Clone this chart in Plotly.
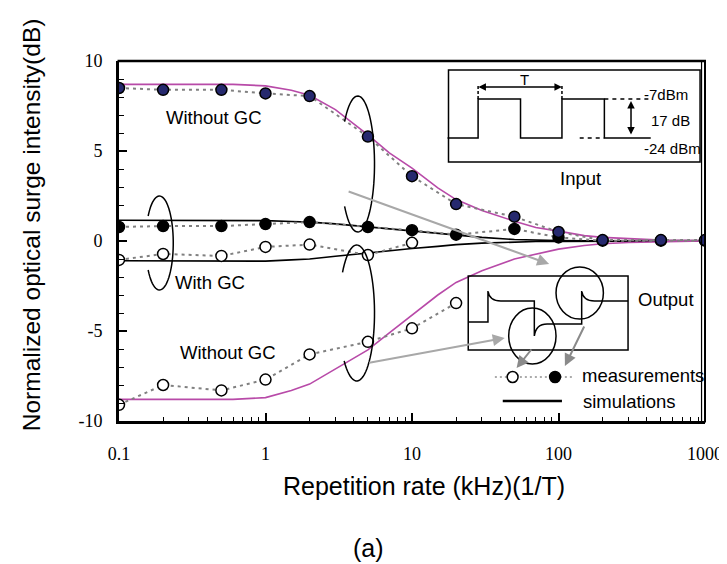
import numpy as np
import plotly.graph_objects as go

W, H = 727, 564
L, R, T, B = 111, 705, 53, 413  # plot area in pixels

# ---------------- data ----------------
x_meas = [0.1, 0.2, 0.5, 1, 2, 5, 10, 20, 50, 100, 200, 500, 1000]
meas_woGC_pos = [8.5, 8.4, 8.4, 8.2, 8.05, 5.8, 3.6, 2.05, 1.35, 0.5, 0.05, 0.05, 0.05]
meas_wGC_pos = [0.78, 0.83, 0.83, 0.94, 1.05, 0.78, 0.6, 0.35, 0.67, 0.2, 0.02, 0.02, 0.02]
x_meas_wGC_neg = [0.1, 0.2, 0.5, 1, 2, 5, 10]
meas_wGC_neg = [-1.05, -0.72, -0.83, -0.33, -0.2, -0.78, -0.1]
x_meas_woGC_neg = [0.1, 0.2, 0.5, 1, 2, 5, 10, 20]
meas_woGC_neg = [-9.1, -8.0, -8.3, -7.7, -6.3, -5.6, -4.85, -3.45]

x_sim = [0.1, 0.3, 0.6, 1, 1.5, 2, 3, 5, 7, 10, 15, 20, 30, 50, 70, 100, 150, 200, 300, 500, 1000]
sim_woGC_pos = [8.7, 8.7, 8.7, 8.62, 8.38, 8.1, 7.3, 5.9, 4.9, 4.05, 2.95, 2.3, 1.7, 1.1, 0.75,
                0.55, 0.3, 0.2, 0.12, 0.05, 0.03]
sim_woGC_neg = [-8.8, -8.8, -8.8, -8.7, -8.3, -7.95, -7.1, -6.05, -5.1, -4.1, -3.0, -2.3, -1.65,
                -1.0, -0.72, -0.45, -0.25, -0.15, -0.08, -0.03, 0.0]
sim_wGC_pos = [1.15, 1.15, 1.15, 1.13, 1.08, 1.05, 0.95, 0.78, 0.65, 0.55, 0.42, 0.32, 0.2, 0.08,
               0.04, 0.02, 0.01, 0, 0, 0, 0]
sim_wGC_neg = [-1.1, -1.12, -1.15, -1.12, -1.05, -1.0, -0.85, -0.67, -0.52, -0.42, -0.3, -0.2,
               -0.12, -0.05, -0.03, -0.02, -0.01, 0, 0, 0, 0]

x_tickvals = [0.1, 1, 10, 100, 1000]
x_ticktext = ["0.1", "1", "10", "100", "1000"]
y_tickvals = [-10, -5, 0, 5, 10]
y_ticktext = ["-10", "-5", "0", "5", "10"]

SANS = "Liberation Sans, Arial, sans-serif"
SERIF = "Liberation Serif, Times New Roman, serif"
NAVY = "#26296e"
MAGENTA = "#b84aa8"
DOTGREY = "#808080"

# ---------------- helpers (pixel -> paper) ----------------
def px(x):
    return (x - L) / (R - L)

def py(y):
    return (B - y) / (B - T)

def pt(x, y):
    return f"{px(x):.5f},{py(y):.5f}"

def poly(points):
    return "M" + " L".join(pt(x, y) for x, y in points)

def arc(cx, cy, rx, ry, t0, t1, n=60):
    t = np.linspace(t0, t1, n)
    return poly(list(zip(cx + rx * np.cos(t), cy + ry * np.sin(t))))

shapes = []

def line(x0, y0, x1, y1, color="black", width=1.5, dash=None):
    shapes.append(dict(type="line", xref="paper", yref="paper",
                       x0=px(x0), y0=py(y0), x1=px(x1), y1=py(y1),
                       line=dict(color=color, width=width, dash=dash)))

def path(d, color="black", width=1.5, fill=None):
    s = dict(type="path", xref="paper", yref="paper", path=d,
             line=dict(color=color, width=width))
    if fill:
        s["fillcolor"] = fill
    shapes.append(s)

def rect(x0, y0, x1, y1, width=1.5):
    shapes.append(dict(type="rect", xref="paper", yref="paper",
                       x0=px(x0), y0=py(y1), x1=px(x1), y1=py(y0),
                       line=dict(color="black", width=width)))

def ellipse(cx, cy, rx, ry, width=1.5):
    shapes.append(dict(type="circle", xref="paper", yref="paper",
                       x0=px(cx - rx), x1=px(cx + rx), y0=py(cy + ry), y1=py(cy - ry),
                       line=dict(color="black", width=width)))

annotations = []

def text(x, y, s, size=18.5, xanchor="center", family=SANS, angle=0):
    annotations.append(dict(xref="paper", yref="paper", x=px(x), y=py(y), text=s,
                            showarrow=False, xanchor=xanchor, yanchor="middle",
                            textangle=angle, font=dict(family=family, size=size, color="black")))

def arrow(xt, yt, xh, yh, color="#a8a8a8", width=2, both=False, head=2, size=1.2):
    annotations.append(dict(xref="paper", yref="paper", x=px(xh), y=py(yh), text="",
                            showarrow=True, ax=xt - xh, ay=yt - yh,
                            arrowhead=head, startarrowhead=head, arrowsize=size, startarrowsize=size,
                            arrowside="end+start" if both else "end",
                            arrowwidth=width, arrowcolor=color,
                            standoff=0, startstandoff=0))

# ---------------- figure ----------------
fig = go.Figure()

# simulations
for ys in (sim_wGC_pos, sim_wGC_neg):
    fig.add_trace(go.Scatter(x=x_sim, y=ys, mode="lines",
                             line=dict(color="black", width=1.6), hoverinfo="skip"))
for ys in (sim_woGC_pos, sim_woGC_neg):
    fig.add_trace(go.Scatter(x=x_sim, y=ys, mode="lines",
                             line=dict(color=MAGENTA, width=1.6), hoverinfo="skip"))

# measurements
def meas(xs, ys, fill):
    fig.add_trace(go.Scatter(x=xs, y=ys, mode="lines+markers",
                             line=dict(color=DOTGREY, width=2, dash="3px,4px"),
                             marker=dict(size=11, color=fill, line=dict(color="black", width=1.5)),
                             hoverinfo="skip"))

meas(x_meas_woGC_neg, meas_woGC_neg, "white")
meas(x_meas_wGC_neg, meas_wGC_neg, "white")
meas(x_meas, meas_wGC_pos, "black")
meas(x_meas, meas_woGC_pos, NAVY)

# frame: top and double right border
line(L - 1.5, T, R + 1, T, width=2.5)
line(R, T, R, B + 1.5, width=2)
line(R - 3.5, T, R - 3.5, B, width=1.2)

# ellipses around curves (arcs open on the left)
path(arc(353, 156, 17, 68, -2.47, 2.47))
path(arc(352, 305, 18, 68, -2.50, 2.36))
path(arc(152, 235, 14, 47, -2.53, 2.53))

# Input inset
rect(445, 62, 700, 154)
path(poly([(444, 130), (475, 130), (475, 91), (518, 91), (518, 130), (560, 130),
           (560, 91), (603, 91), (603, 130), (650, 130)]))
line(578, 130, 603, 130, dash="4px,4px")
line(603, 91, 650, 91, dash="4px,4px")
line(475, 78, 475, 91, dash="3px,2px")
line(560, 78, 560, 91, dash="3px,2px")
arrow(475, 79, 560, 79, color="black", width=1.5, both=True, size=1)
arrow(630, 128, 630, 93, color="black", width=1.5, both=True, size=1)
text(522, 71, "T", size=15)
text(641, 86, "-7dBm", size=15, xanchor="left")
text(648, 112, "17 dB", size=15, xanchor="left")
text(641, 140, "-24 dBm", size=15, xanchor="left")
text(579, 170, "Input")

# Output inset
rect(465, 268, 627, 342)
d = ("M" + pt(465, 314) + " L" + pt(485, 314) + " L" + pt(485, 283) +
     " C" + pt(486, 290) + " " + pt(490, 293) + " " + pt(498, 293) +
     " L" + pt(532, 293) + " L" + pt(532, 328) +
     " C" + pt(533, 320) + " " + pt(537, 316) + " " + pt(545, 316) +
     " L" + pt(580, 316) + " L" + pt(580, 283) +
     " C" + pt(581, 290) + " " + pt(585, 293) + " " + pt(593, 293) +
     " L" + pt(627, 293))
path(d)
ellipse(530, 328, 24, 28)
ellipse(578, 285, 24, 26)
text(665, 291, "Output")

# legend
line(492, 369, 573, 369, color="#909090", width=1.5, dash="2px,3px")
shapes.append(dict(type="circle", xref="paper", yref="paper", x0=px(504.5), x1=px(515.5),
                   y0=py(374.5), y1=py(363.5), fillcolor="white", line=dict(color="black", width=1.5)))
shapes.append(dict(type="circle", xref="paper", yref="paper", x0=px(547.5), x1=px(558.5),
                   y0=py(374.5), y1=py(363.5), fillcolor="black", line=dict(color="black", width=1.5)))
line(500, 393, 560, 393, width=2.5)
text(578, 367, "measurements", xanchor="left")
text(579, 393, "simulations", xanchor="left")

# arrows
arrow(345, 183, 547, 256)
arrow(365, 355, 502, 330)
arrow(530, 340, 514, 360, color="#8a8a8a")
arrow(583, 317, 563, 358, color="#8a8a8a")

# curve labels
text(207, 109, "Without GC")
text(203, 274, "With GC")
text(221, 344, "Without GC")

# titles
text(420, 478, "Repetition rate (kHz)(1/T)", size=25)
text(364, 540, "(a)", size=25)
text(22, 217, "Normalized optical surge intensity(dB)", size=24.5, angle=-90)

fig.update_layout(
    width=W, height=H,
    margin=dict(l=L, r=W - R, t=T, b=H - B, pad=0),
    paper_bgcolor="white", plot_bgcolor="white",
    showlegend=False,
    shapes=shapes, annotations=annotations,
    xaxis=dict(type="log", range=[-1, 3], showgrid=False, zeroline=False,
               showline=True, linecolor="black", linewidth=3,
               ticks="inside", ticklen=8, tickwidth=1.5, tickcolor="black",
               tickvals=x_tickvals, ticktext=x_ticktext, ticklabelstandoff=14,
               tickfont=dict(family=SERIF, size=18, color="black"),
               minor=dict(ticks="inside", ticklen=4, tickwidth=1.2, tickcolor="black",
                          tickvals=[m * d for d in (0.1, 1, 10, 100) for m in range(2, 10)])),
    yaxis=dict(range=[-10, 10], showgrid=False, zeroline=False,
               showline=True, linecolor="black", linewidth=3,
               ticks="inside", ticklen=8, tickwidth=1.5, tickcolor="black",
               tickvals=y_tickvals, ticktext=y_ticktext, ticklabelstandoff=10,
               tickfont=dict(family=SERIF, size=18, color="black"),
               minor=dict(ticks="inside", ticklen=5, tickwidth=1.2, tickcolor="black", dtick=1)),
)

fig.write_html("out.html")
